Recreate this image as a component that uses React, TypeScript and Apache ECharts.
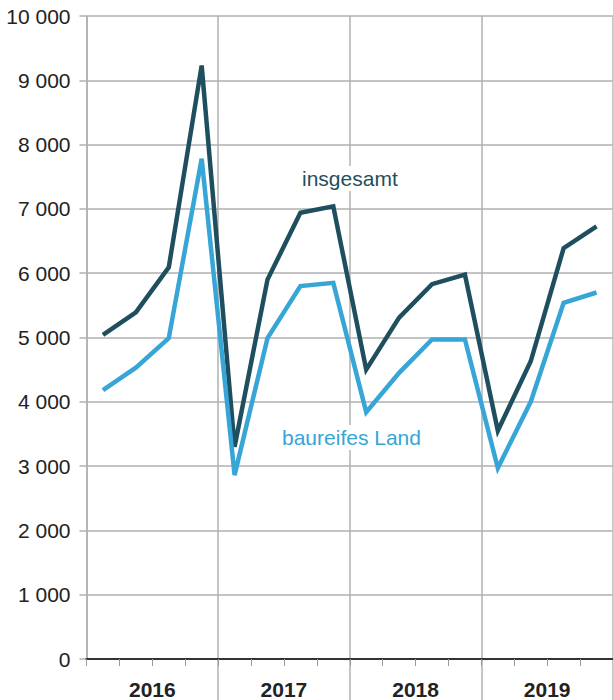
import React, { useEffect, useRef } from "react";
import * as echarts from "echarts";

const quarters = [
  "2016 Q1", "2016 Q2", "2016 Q3", "2016 Q4",
  "2017 Q1", "2017 Q2", "2017 Q3", "2017 Q4",
  "2018 Q1", "2018 Q2", "2018 Q3", "2018 Q4",
  "2019 Q1", "2019 Q2", "2019 Q3", "2019 Q4",
];
const years = ["2016", "2017", "2018", "2019"];
const insgesamt = [
  5040, 5390, 6090, 9230,
  3300, 5900, 6940, 7040,
  4500, 5310, 5830, 5980,
  3550, 4630, 6390, 6730,
];
const baureifesLand = [
  4180, 4530, 4990, 7780,
  2860, 4990, 5800, 5850,
  3840, 4450, 4970, 4970,
  2970, 4000, 5540, 5700,
];
const seriesNames = ["insgesamt", "baureifes Land"];

const DARK = "#1f4f5e";
const BLUE = "#37a5d6";
const GRID = "#b0b0b0";
const FONT = '"Liberation Sans", Arial, Helvetica, sans-serif';

export default function App() {
  const ref = useRef<HTMLDivElement>(null);
  useEffect(() => {
    document.body.style.margin = "0";
    const chart = echarts.init(ref.current!, null, { renderer: "svg" });
    chart.setOption({
      animation: false,
      backgroundColor: "#fff",
      grid: { left: 86.5, right: -2.5, top: 16, bottom: 41, containLabel: false },
      xAxis: [
        {
          type: "category",
          data: quarters,
          boundaryGap: true,
          position: "bottom",
          axisLine: { show: true, lineStyle: { color: "#333", width: 2 } },
          axisTick: { show: true, interval: 0, length: 7, lineStyle: { color: "#999", width: 1 } },
          axisLabel: { show: false },
          splitLine: { show: false },
          z: 5,
        },
        {
          type: "category",
          data: years,
          boundaryGap: true,
          position: "bottom",
          offset: 0,
          axisLine: { show: false },
          axisTick: {
            show: true,
            length: 41,
            interval: (index: number) => index !== 0,
            lineStyle: { color: GRID, width: 1.5 },
          },
          axisLabel: {
            show: true,
            margin: 20,
            color: "#222",
            fontFamily: FONT,
            fontSize: 21,
            fontWeight: "bold",
          },
          splitLine: { show: true, lineStyle: { color: GRID, width: 1.5 } },
        },
      ],
      yAxis: {
        type: "value",
        min: 0,
        max: 10000,
        interval: 1000,
        axisLine: { show: true, lineStyle: { color: GRID, width: 1.5 } },
        axisTick: { show: true, length: 7, lineStyle: { color: GRID, width: 1.5 } },
        axisLabel: {
          margin: 16,
          color: "#222",
          fontFamily: FONT,
          fontSize: 21,
          formatter: (v: number) => String(v).replace(/\B(?=(\d{3})+(?!\d))/g, " "),
        },
        splitLine: { show: true, lineStyle: { color: GRID, width: 1.5 } },
      },
      series: [
        {
          name: seriesNames[0],
          type: "line",
          data: insgesamt,
          xAxisIndex: 0,
          symbol: "none",
          lineStyle: { color: DARK, width: 4.5, join: "miter" },
          itemStyle: { color: DARK },
          z: 3,
        },
        {
          name: seriesNames[1],
          type: "line",
          data: baureifesLand,
          xAxisIndex: 0,
          symbol: "none",
          lineStyle: { color: BLUE, width: 4.5, join: "miter" },
          itemStyle: { color: BLUE },
          z: 4,
        },
      ],
      graphic: [
        {
          type: "text",
          left: 298,
          top: 166,
          z: 10,
          style: {
            text: seriesNames[0],
            fill: DARK,
            font: `21px ${FONT}`,
            backgroundColor: "#fff",
            padding: [2, 4],
          },
        },
        {
          type: "text",
          left: 278,
          top: 425,
          z: 10,
          style: {
            text: seriesNames[1],
            fill: BLUE,
            font: `21px ${FONT}`,
            backgroundColor: "#fff",
            padding: [2, 4],
          },
        },
      ],
    });
    return () => chart.dispose();
  }, []);
  return <div ref={ref} style={{ width: 613, height: 700 }} />;
}
